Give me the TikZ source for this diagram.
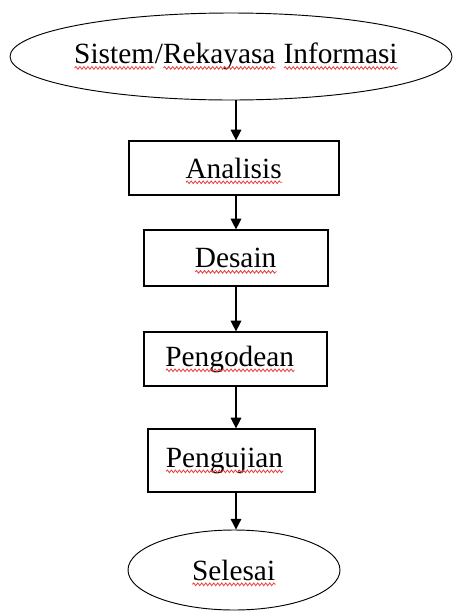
\documentclass[tikz,border=0pt]{standalone}
\usepackage{fontspec}
\setmainfont{Liberation Serif}
\usetikzlibrary{shapes.geometric,arrows.meta,decorations.pathmorphing}
\definecolor{spellred}{RGB}{235,60,60}
\newlength\spellw
% red wavy mark under a word
\newcommand\spell[1]{\settowidth\spellw{#1}\rlap{#1}\smash{\raisebox{-4.5pt}{\tikz\draw[spellred,line width=.6pt,decorate,decoration={snake,amplitude=1pt,segment length=3pt}] (0,0) -- (\spellw,0);}}}
\tikzset{
  startend/.style={ellipse,draw,line width=.7pt,inner sep=0pt},
  stepbox/.style={rectangle,draw,line width=.9pt,inner sep=0pt},
  flow/.style={-{Triangle[width=8pt,length=8pt]},line width=.9pt},
  every node/.style={font=\fontsize{22}{26}\selectfont}
}
\begin{document}
\begin{tikzpicture}[x=.75pt,y=-.75pt]
            \useasboundingbox (0,0) rectangle (453,615);
            \coordinate (axis) at (236,0);
            \node[startend,minimum width=331.5pt,minimum height=65.25pt] (sistem) at (231,56.5) {\makebox[0pt]{\hspace*{8pt}\spell{Sistem}/\spell{Rekayasa} \spell{Informasi}}};
            \node[stepbox,minimum width=157.5pt,minimum height=40.5pt] (analisis) at (234,168) {\spell{Analisis}};
            \node[stepbox,minimum width=138pt,minimum height=42pt] (desain) at (236,258) {\spell{Desain}};
            \node[stepbox,minimum width=137.25pt,minimum height=40.5pt] (pengodean) at (235.5,359) {\spell{Pengodean}\hspace*{8pt}};
            \node[stepbox,minimum width=125.25pt,minimum height=47.25pt] (pengujian) at (231.5,460.5) {\spell{Pengujian}\hspace*{10pt}};
            \node[startend,minimum width=159pt,minimum height=60pt] (selesai) at (234,570) {\spell{Selesai}};
            \draw[flow] (sistem.south -| axis) -- (analisis.north -| axis);
            \draw[flow] (analisis.south -| axis) -- (desain.north -| axis);
            \draw[flow] (desain.south -| axis) -- (pengodean.north -| axis);
            \draw[flow] (pengodean.south -| axis) -- (pengujian.north -| axis);
            \draw[flow] (pengujian.south -| axis) -- (selesai.north -| axis);
        \end{tikzpicture}
\end{document}
